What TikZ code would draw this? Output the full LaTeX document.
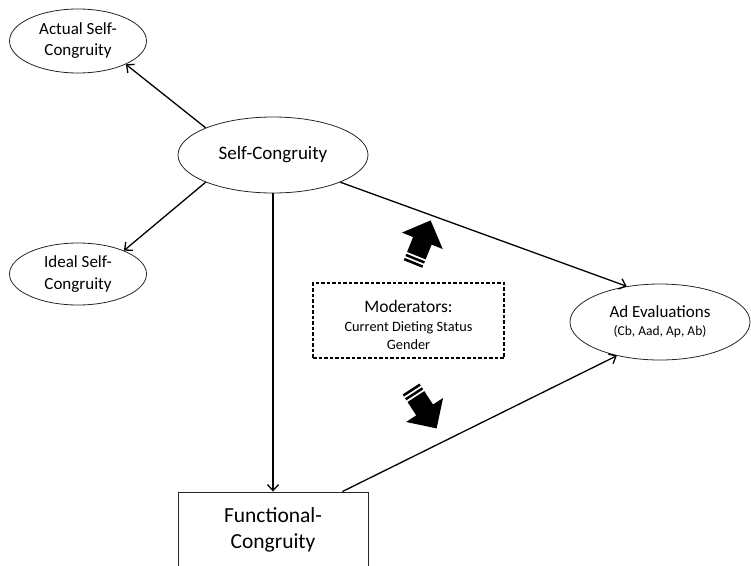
\documentclass[tikz,border=0pt]{standalone}
\usepackage{fontspec}
\setmainfont{Carlito}
\usetikzlibrary{arrows.meta,shapes.geometric,calc}
\tikzset{
  oval/.style={ellipse, draw=black!85, line width=0.8pt, inner sep=0pt, align=center},
  link/.style={line width=1.3pt, -{Straight Barb[length=6pt,width=11pt,line width=1.3pt]}},
  modbox/.style={draw, line width=1.3pt, dash pattern=on 3.5pt off 2pt, minimum width=191pt, minimum height=75pt, inner sep=0pt},
  fcbox/.style={draw=black!85, line width=0.9pt, minimum width=190pt, minimum height=76pt, align=center, inner sep=0pt},
  blockarrow/.pic={
    \fill (0pt,-10pt) rectangle (2.5pt,10pt);
    \fill (4.5pt,-10pt) rectangle (7pt,10pt);
    \fill (9pt,-10pt) -- (25pt,-10pt) -- (25pt,-22pt) -- (47pt,0pt) -- (25pt,22pt) -- (25pt,10pt) -- (9pt,10pt) -- cycle;
  }
}
\begin{document}
\begin{tikzpicture}[x=1pt,y=-1pt]
\useasboundingbox (0,0) rectangle (751,565);
\node[oval, minimum width=137pt, minimum height=64pt, font=\fontsize{17}{21}\selectfont] (act) at (78,41) {Actual Self-\\Congruity};
\node[oval, minimum width=137pt, minimum height=62pt, font=\fontsize{17}{22}\selectfont] (ideal) at (78,274) {Ideal Self-\\Congruity};
\node[oval, minimum width=190pt, minimum height=76pt, font=\fontsize{19}{22}\selectfont] (sc) at (273,155) {Self-Congruity};
\node[oval, minimum width=180pt, minimum height=76pt, font=\fontsize{13}{18}\selectfont] (ad) at (660,322) {{\fontsize{17}{18}\selectfont Ad Evaluations}\\{\fontsize{13.5}{18}\selectfont (Cb, Aad, Ap, Ab)}};
\node[fcbox, font=\fontsize{21.5}{26}\selectfont] (fc) at (273,530) {Functional-\\Congruity};
\node[modbox] (modframe) at (408.5,320.5) {};
\node[align=center, inner sep=0pt, font=\fontsize{14}{18}\selectfont] (mod) at (408.5,324.5) {{\fontsize{17.5}{18}\selectfont Moderators:}\\[1pt]{\fontsize{14.3}{18}\selectfont Current Dieting Status}\\{\fontsize{14.3}{18}\selectfont Gender}};

\draw[link] (sc.158) -- (act.334);
\draw[link] (sc.202) -- (ideal.27);
\draw[link] (sc.south) -- (fc.north);
\draw[link] (sc.338) -- (ad.133);
\draw[link] (fc.29.6) -- (ad.218);

\pic[rotate=68] at (413,264) {blockarrow};
\pic[rotate=-57] at (411,389) {blockarrow};
\end{tikzpicture}
\end{document}
